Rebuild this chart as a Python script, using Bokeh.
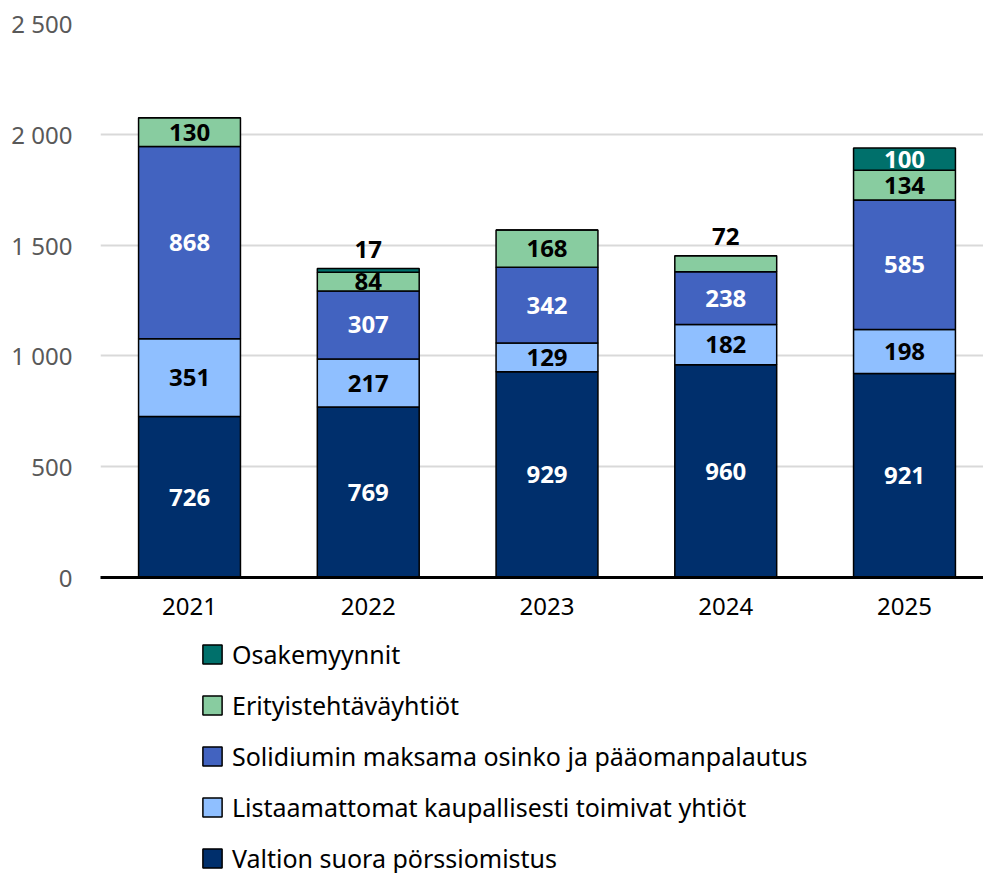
from bokeh.plotting import figure
from bokeh.models import Range1d, FixedTicker, Legend, LegendItem
from bokeh.layouts import column
from bokeh.core.properties import value
from bokeh.embed import file_html
from bokeh.resources import INLINE

years = [2021, 2022, 2023, 2024, 2025]
year_labels = ["2021", "2022", "2023", "2024", "2025"]
valtion = [726, 769, 929, 960, 921]
listaamattomat = [351, 217, 129, 182, 198]
solidium = [868, 307, 342, 238, 585]
erityis = [130, 84, 168, 72, 134]
osake = [0, 17, 0, 0, 100]

series_names = [
    "Valtion suora pörssiomistus",
    "Listaamattomat kaupallisesti toimivat yhtiöt",
    "Solidiumin maksama osinko ja pääomanpalautus",
    "Erityistehtäväyhtiöt",
    "Osakemyynnit",
]
colors = ["#002F6C", "#8FBFFF", "#4263C0", "#88CCA0", "#00706B"]
label_colors = ["white", "black", "white", "black", "white"]
y_ticks = [0, 500, 1000, 1500, 2000, 2500]
y_tick_labels = ["0", "500", "1 000", "1 500", "2 000", "2 500"]

series = [valtion, listaamattomat, solidium, erityis, osake]
keys = ["s0", "s1", "s2", "s3", "s4"]

FONT = "Noto Sans"

data = {"x": years}
for k, s in zip(keys, series):
    data[k] = s

p = figure(width=983, height=624, output_backend="svg", toolbar_location=None,
           x_range=Range1d(2020.502, 2025.442), y_range=Range1d(0, 2500),
           min_border_left=100, min_border_top=23, min_border_right=0,
           min_border_bottom=47)
p.outline_line_color = None

renderers = p.vbar_stack(keys, x="x", width=0.57, color=colors, source=data,
                         line_color="black", line_width=1.5)

# labels
in_x, in_y, in_t, in_c = [], [], [], []
ab_x, ab_y, ab_t = [], [], []
for i, yr in enumerate(years):
    bottom = 0
    total = sum(s[i] for s in series)
    for j, s in enumerate(series):
        v = s[i]
        if v > 0:
            if v < 80:
                ab_x.append(yr)
                ab_y.append(total)
                ab_t.append(str(v))
            else:
                in_x.append(yr)
                in_y.append(bottom + v / 2)
                in_t.append(str(v))
                in_c.append(label_colors[j])
        bottom += v

p.text(x=in_x, y=in_y, text=in_t, text_color=in_c, text_align="center",
       text_baseline="middle", text_font=value(FONT), text_font_style="bold",
       text_font_size="24px")
p.text(x=ab_x, y=ab_y, text=ab_t, text_color="black", text_align="center",
       text_baseline="bottom", y_offset=-11, text_font=value(FONT),
       text_font_style="bold", text_font_size="24px")

# axes
p.xaxis.ticker = FixedTicker(ticks=years)
p.xaxis.major_label_overrides = {y: l for y, l in zip(years, year_labels)}
p.xaxis.axis_line_color = "black"
p.xaxis.axis_line_width = 3
p.xaxis.major_tick_line_color = None
p.xaxis.minor_tick_line_color = None
p.xaxis.major_label_text_font = FONT
p.xaxis.major_label_text_font_size = "24px"
p.xaxis.major_label_text_color = "black"
p.xaxis.major_label_standoff = 14

p.yaxis.ticker = FixedTicker(ticks=y_ticks)
p.yaxis.major_label_overrides = {t: l for t, l in zip(y_ticks, y_tick_labels)}
p.yaxis.axis_line_color = None
p.yaxis.major_tick_line_color = None
p.yaxis.minor_tick_line_color = None
p.yaxis.major_label_text_font = FONT
p.yaxis.major_label_text_font_size = "24px"
p.yaxis.major_label_text_color = "#595959"
p.yaxis.major_label_standoff = 22

p.xgrid.grid_line_color = None
p.ygrid.grid_line_color = "#D9D9D9"
p.ygrid.grid_line_width = 2

# legend figure: same series as hidden renderers, only the legend shows
p2 = figure(width=983, height=249, output_backend="svg", toolbar_location=None,
            x_range=Range1d(2020.502, 2025.442), y_range=Range1d(0, 2500),
            x_axis_type=None, y_axis_type=None,
            min_border_left=100, min_border_top=0, min_border_right=0,
            min_border_bottom=0)
p2.outline_line_color = None
p2.xgrid.grid_line_color = None
p2.ygrid.grid_line_color = None
r2 = p2.vbar_stack(keys, x="x", width=0.57, color=colors, source=data,
                   line_color="black", line_width=1.5)
for r in r2:
    r.visible = False

items = [LegendItem(label=series_names[j], renderers=[r2[j]]) for j in range(4, -1, -1)]
legend = Legend(items=items, orientation="vertical", location=(100, -2),
                glyph_width=24, glyph_height=24, label_height=24,
                label_text_font=FONT,
                label_text_font_size="25px", label_text_color="black",
                label_standoff=8, spacing=17, padding=0, margin=0,
                border_line_color=None, background_fill_alpha=0)
p2.add_layout(legend, "center")

open("out.html", "w").write(file_html(column(p, p2), INLINE))
